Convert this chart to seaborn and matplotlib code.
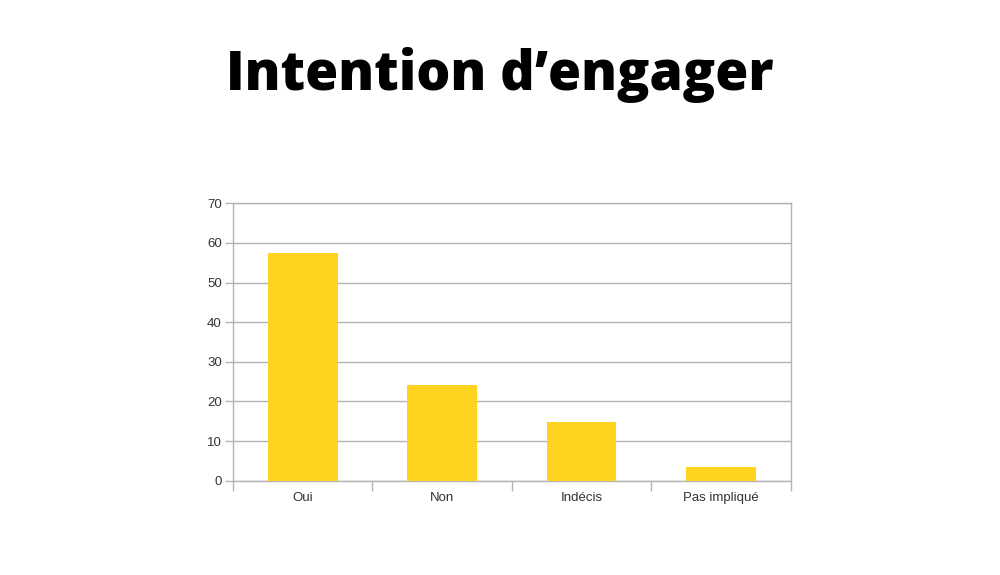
import matplotlib
matplotlib.use("Agg")
import matplotlib.pyplot as plt
import seaborn as sns
import pandas as pd
import numpy as np

categories = ["Oui", "Non", "Indécis", "Pas impliqué"]
values = [57.4, 24.1, 14.7, 3.5]
yticks = [0, 10, 20, 30, 40, 50, 60, 70]
title = "Intention d\u2019engager"

sns.set_theme(style="white")
plt.rcParams['font.family'] = ['Liberation Sans', 'DejaVu Sans']

df = pd.DataFrame({"cat": categories, "val": values})

fig = plt.figure(figsize=(10, 5.75), dpi=100)
ax = fig.add_axes([0.233, 0.164, 0.5577, 0.4824])

sns.barplot(data=df, x="cat", y="val", color="#FFD320", width=0.5,
            saturation=1, ax=ax, zorder=3, edgecolor="none")

ax.set_xlim(-0.5, len(categories) - 0.5)
ax.set_ylim(0, 70)
ax.set_yticks(yticks)
ax.set_xlabel("")
ax.set_ylabel("")

ax.yaxis.grid(True, color="#b3b3b3", linewidth=1.0, zorder=0)
ax.xaxis.grid(False)

for side in ["left", "right", "top", "bottom"]:
    ax.spines[side].set_visible(True)
    ax.spines[side].set_color("#b3b3b3")
    ax.spines[side].set_linewidth(1.0)

ax.tick_params(axis="y", which="major", length=6, width=1, color="#b3b3b3",
               labelsize=9.5, labelcolor="#333333", left=True, pad=2)
ax.set_xticks(np.arange(-0.5, len(categories), 1.0), minor=True)
ax.tick_params(axis="x", which="minor", length=7, width=1, color="#b3b3b3", bottom=True)
ax.tick_params(axis="x", which="major", length=0, labelsize=9.5, labelcolor="#333333", pad=8)

fig.text(0.5, 0.843, title, ha="center", va="baseline", fontsize=38.6,
         fontweight=800, family=["Open Sans", "DejaVu Sans"], color="black")

fig.savefig("out.png", dpi=100, facecolor="white")
